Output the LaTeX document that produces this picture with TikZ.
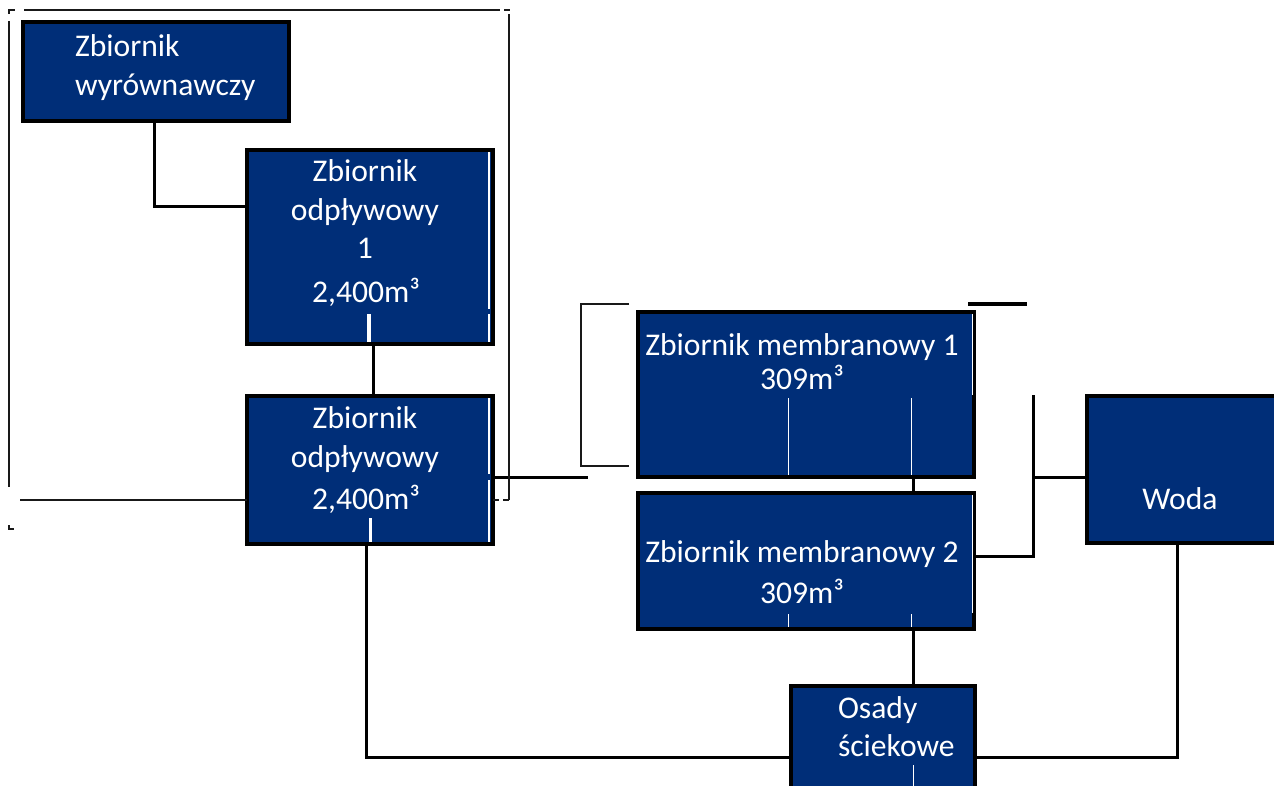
\documentclass[tikz,border=0pt]{standalone}
\usepackage{fontspec}
\setmainfont{Carlito}
\definecolor{navy}{RGB}{0,46,120}
\begin{document}
\begin{tikzpicture}[x=1pt,y=-1pt,
  box/.style={rectangle, draw=black, line width=3.2pt, fill=navy, inner sep=0pt, outer sep=0pt, anchor=north west},
  txt/.style={text=white, font=\fontsize{31.6}{37}\selectfont, inner sep=0pt, outer sep=0pt, anchor=base},
  txtl/.style={txt, anchor=base west},
  link/.style={draw=black, line width=3pt},
  brk/.style={draw=black!90, line width=2.8pt},
  glint/.style={draw=white, line width=1pt}]
\useasboundingbox (0,0) rectangle (1274,786);

% boxes
\node[box, minimum width=266pt, minimum height=99pt] (A) at (23,22) {};
\node[box, minimum width=246pt, minimum height=194pt] (B) at (247,150) {};
\node[box, minimum width=246pt, minimum height=148pt] (C) at (247,396) {};
\node[box, minimum width=336pt, minimum height=165pt] (D) at (638,312) {};
\node[box, minimum width=336pt, minimum height=136pt] (E) at (638,493) {};
\node[box, minimum width=210pt, minimum height=147pt] (F) at (1087,396) {};
\node[box, minimum width=184pt, minimum height=120pt] (G) at (791,686) {};

% white glints inside boxes
\draw[glint, line width=3.5pt] (369,314) -- (369,342);
\draw[glint, line width=1.5pt] (489,152) -- (489,309) (489,314) -- (489,342);
\draw[glint, line width=3pt] (370,518) -- (370,542);
\draw[glint, line width=1.5pt] (489,398) -- (489,474) (489,480) -- (489,542);
\draw[glint] (788,398) -- (788,475) (911,398) -- (911,475) (972.5,314) -- (972.5,395);
\draw[glint] (788,614) -- (788,627) (911,614) -- (911,627) (972.5,495) -- (972.5,613);
\draw[glint] (913,765) -- (913,786);

% texts
\node[txtl] (tA1) at (75,57) {Zbiornik};
\node[txtl] (tA2) at (75,96) {wyrównawczy};
\node[txt] (tB1) at (365,182) {Zbiornik};
\node[txt] (tB2) at (365,220.5) {odpływowy};
\node[txt] (tB3) at (365,259) {1};
\node[txt] (tB4) at (366,302) {2,400m³};
\node[txt] (tC1) at (365,428.5) {Zbiornik};
\node[txt] (tC2) at (365,467.5) {odpływowy};
\node[txt] (tC3) at (366,509) {2,400m³};
\node[txt] (tD1) at (802,355) {Zbiornik membranowy 1};
\node[txt] (tD2) at (802,389) {309m³};
\node[txt] (tE1) at (802,562) {Zbiornik membranowy 2};
\node[txt] (tE2) at (802,603) {309m³};
\node[txt] (tF) at (1180,509) {Woda};
\node[txtl] (tG1) at (838,718) {Osady};
\node[txtl] (tG2) at (838,756) {ściekowe};

% connectors
\coordinate (cAB) at (154,207);
\draw[link] (A.south -| cAB) |- (B.west |- cAB);
\draw[link] (B.south -| 373,0) -- (C.north -| 373,0);
\coordinate (cCG) at (366,757);
\draw[link] (C.south -| cCG) |- (G.west |- cCG);
\coordinate (cGF) at (1177,757);
\draw[link] (G.east |- cGF) -| (F.south -| cGF);
\draw[link] (D.south -| 913,0) -- (E.north -| 913,0);
\draw[link] (E.south -| 913,0) -- (G.north -| 913,0);
\coordinate (cE) at (1033,556);
\coordinate (cTop) at (1033,395);
\draw[link] (E.east |- cE) -- (cE) -- (cTop);
\draw[link] (cE |- 0,477) -- (F.west |- 0,477);
\coordinate (cOut) at (588,477);
\draw[link] (C.east |- cOut) -- (cOut);

% bracket near membrane tank 1
\coordinate (bk1) at (629,304);
\coordinate (bk2) at (629,466);
\draw[brk] (bk1) -- (581,304) -- (581,466) -- (bk2);
\coordinate (rt1) at (968,304);
\coordinate (rt2) at (1027,304);
\draw[link] (rt1) -- (rt2);

% outer frame around equalisation and outflow tanks
\coordinate (o1) at (24,10);
\coordinate (o2) at (500,10);
\draw[brk] (o1) -- (o2);
\draw[brk] (8,10) -- (15,10);
\draw[brk] (9,10) -- (9,14);
\draw[brk] (9,21) -- (9,487);
\draw[brk] (504,10) -- (510,10);
\draw[brk] (509,14) -- (509,500);
\coordinate (o3) at (20,500);
\draw[brk] (o3) -- (C.west |- o3);
\draw[brk, dashed, dash pattern=on 6pt off 4pt] (C.east |- o3) -- (509,500);
\draw[brk] (9,525) -- (9,529) -- (14,529);
\end{tikzpicture}
\end{document}
